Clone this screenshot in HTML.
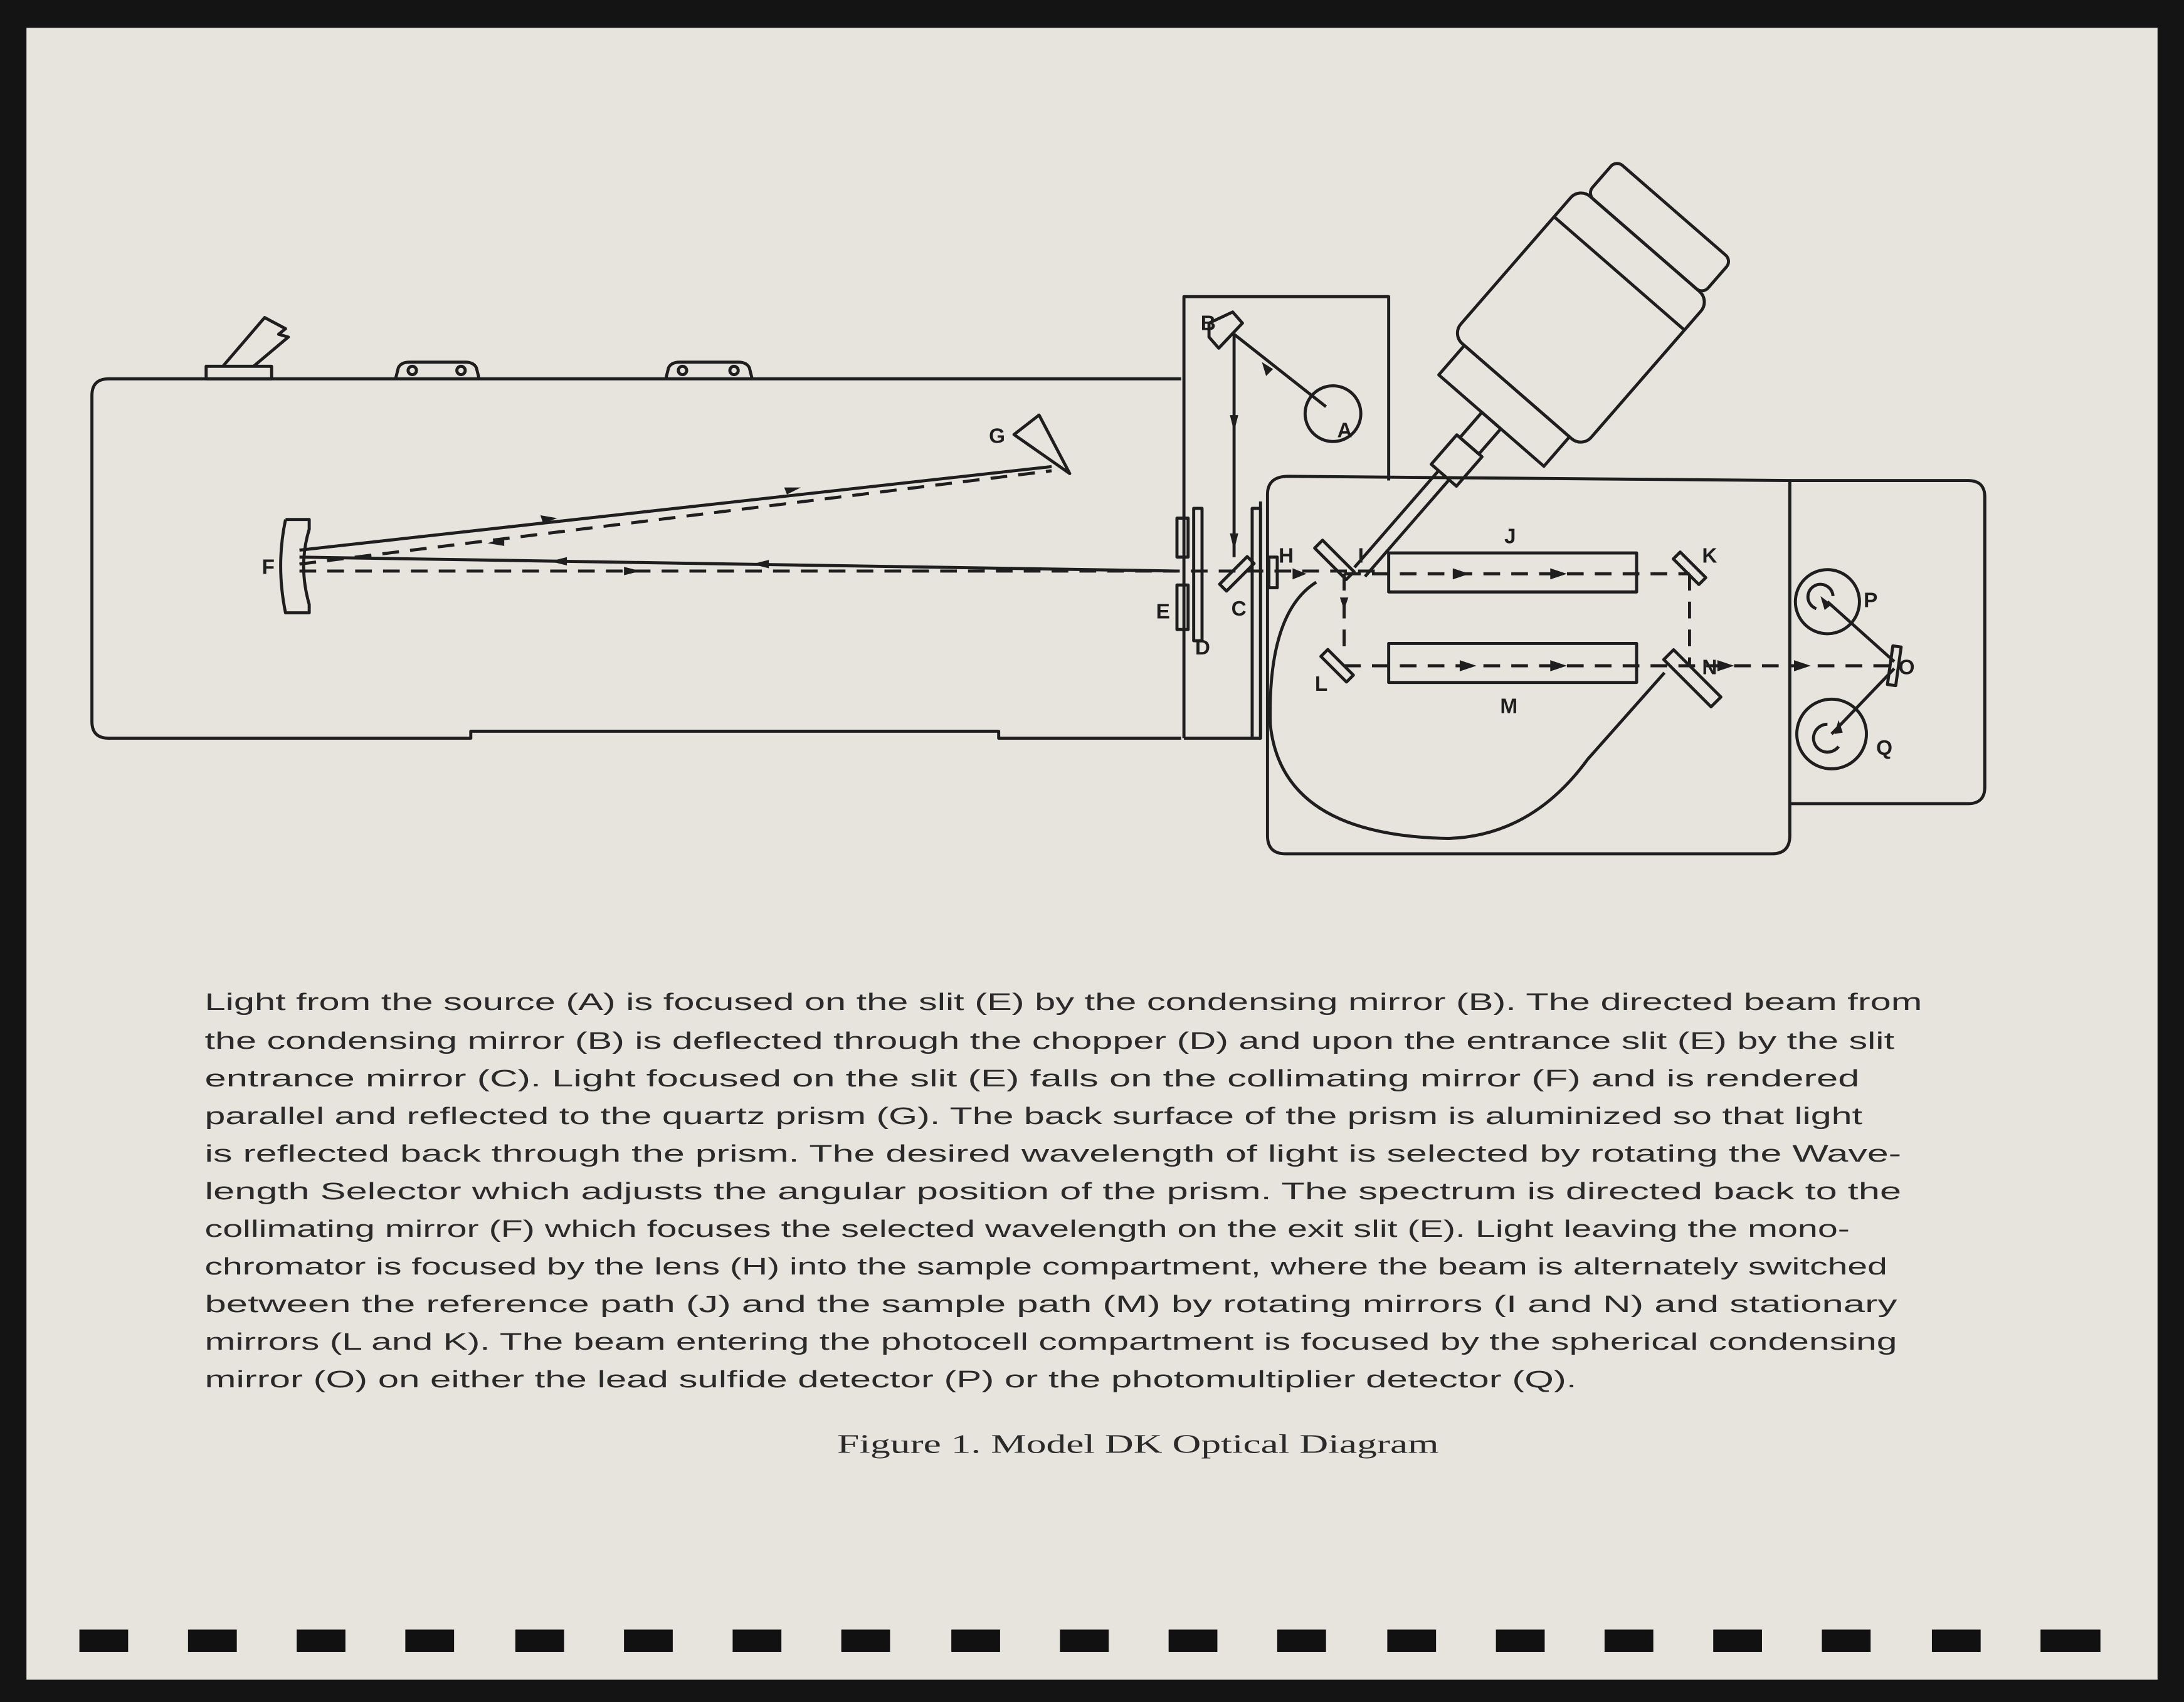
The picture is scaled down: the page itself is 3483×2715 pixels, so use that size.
<!DOCTYPE html>
<html><head><meta charset="utf-8"><style>
html,body{margin:0;padding:0;background:#111;}
svg{display:block;}
</style></head><body>
<svg width="3483" height="2715" viewBox="0 0 1568 1222" preserveAspectRatio="none" xmlns="http://www.w3.org/2000/svg">
<rect x="0" y="0" width="1568" height="1222" fill="#151414"/>
<rect x="19" y="20" width="1530" height="1186" fill="#e7e4de"/>
<g fill="#111">
<rect x="57" y="1170" width="35" height="16"/><rect x="135" y="1170" width="35" height="16"/><rect x="213" y="1170" width="35" height="16"/><rect x="291" y="1170" width="35" height="16"/><rect x="370" y="1170" width="35" height="16"/><rect x="448" y="1170" width="35" height="16"/><rect x="526" y="1170" width="35" height="16"/><rect x="604" y="1170" width="35" height="16"/><rect x="683" y="1170" width="35" height="16"/><rect x="761" y="1170" width="35" height="16"/><rect x="839" y="1170" width="35" height="16"/><rect x="917" y="1170" width="35" height="16"/><rect x="996" y="1170" width="35" height="16"/><rect x="1074" y="1170" width="35" height="16"/><rect x="1152" y="1170" width="35" height="16"/><rect x="1230" y="1170" width="35" height="16"/><rect x="1308" y="1170" width="35" height="16"/><rect x="1387" y="1170" width="35" height="16"/><rect x="1465" y="1170" width="43" height="16"/>
</g>
<g fill="none" stroke="#1e1e1e" stroke-width="2.2" stroke-linejoin="round">
<path d="M848 272 L78 272 Q66 272 66 284 L66 518 Q66 530 78 530 L338 530 L338 525 L717 525 L717 530 L848 530"/>
<rect x="148" y="263" width="47" height="9"/>
<path d="M160 263 L190 228 L205 236 L200 240 L207 242 L182 263"/>
<path d="M284 272 L286 264 Q288 260 294 260 L334 260 Q340 260 342 264 L344 272"/>
<circle cx="296" cy="266" r="3"/><circle cx="331" cy="266" r="3"/>
<path d="M478 272 L480 264 Q482 260 488 260 L530 260 Q536 260 538 264 L540 272"/>
<circle cx="490" cy="266" r="3"/><circle cx="527" cy="266" r="3"/>
<path d="M850 530 L850 213 L997 213 L997 345"/>
<path d="M850 530 L905 530 L905 360"/>
<path d="M925 342 L1285 345 L1285 600 Q1285 613 1272 613 L923 613 Q910 613 910 600 L910 355 Q910 342 925 342"/>
<path d="M1285 345 L1413 345 Q1425 345 1425 357 L1425 565 Q1425 577 1413 577 L1285 577"/>
<rect x="845" y="372" width="8" height="28"/><rect x="845" y="420" width="8" height="32"/>
<rect x="857" y="365" width="6" height="95"/>
<rect x="899" y="365" width="6" height="165"/>
<rect x="911" y="400" width="6" height="22"/>
<rect x="997" y="397" width="178" height="28"/>
<rect x="997" y="462" width="178" height="28"/>
<circle cx="957" cy="297" r="20"/>
<circle cx="1312" cy="432" r="23"/>
<circle cx="1315" cy="527" r="25"/>
<path d="M1304 437 A9 9 0 1 1 1316 428"/>
<path d="M1312 520 A10 10 0 1 0 1320 536"/>
<g transform="translate(1135 228) rotate(-49)">
<rect x="-70" y="-62" width="140" height="124" rx="10"/>
<rect x="70" y="-55" width="32" height="110" rx="6"/>
<line x1="42" y1="-62" x2="42" y2="62"/>
<rect x="-98" y="-50" width="28" height="100"/>
<rect x="-122" y="-9" width="24" height="18"/>
<rect x="-150" y="-12" width="28" height="24"/>
<line x1="-242" y1="-5" x2="-150" y2="-5"/><line x1="-242" y1="5" x2="-150" y2="5"/>
</g>
<path d="M945 418 Q910 440 912 520 Q920 600 1040 602 Q1100 600 1140 545 L1195 483"/>
<path d="M205 373 L222 373 L222 380 Q214 406 222 434 L222 440 L205 440 Q198 406 205 373"/>
<path d="M728 312 L746 298 L768 340 Z"/>
<path d="M868 232 L885 224 L892 232 L875 250 L868 242 Z"/>
<g transform="translate(888 412) rotate(-45)"><rect x="-14" y="-3.5" width="28" height="7"/></g>
<g transform="translate(958 402) rotate(45)"><rect x="-16" y="-4" width="32" height="8"/></g>
<g transform="translate(1213 408) rotate(45)"><rect x="-13" y="-3.5" width="26" height="7"/></g>
<g transform="translate(960 478) rotate(45)"><rect x="-13" y="-3.5" width="26" height="7"/></g>
<g transform="translate(1215 487) rotate(45)"><rect x="-24" y="-5" width="48" height="10"/></g>
<g transform="translate(1360 478) rotate(8)"><rect x="-3" y="-14" width="6" height="28"/></g>
<line x1="215" y1="395" x2="755" y2="335"/>
<line x1="215" y1="400" x2="845" y2="410"/>
<line x1="886" y1="240" x2="886" y2="400"/>
<line x1="886" y1="240" x2="952" y2="292"/>
<line x1="1312" y1="432" x2="1360" y2="475"/>
<line x1="1315" y1="527" x2="1360" y2="480"/>
</g>
<g fill="none" stroke="#1e1e1e" stroke-width="2.2" stroke-dasharray="12 8">
<line x1="215" y1="405" x2="755" y2="338"/>
<line x1="215" y1="410" x2="990" y2="410"/>
<line x1="965" y1="412" x2="1213" y2="412"/>
<line x1="1213" y1="412" x2="1213" y2="478"/>
<line x1="965" y1="412" x2="965" y2="470"/>
<line x1="965" y1="478" x2="1360" y2="478"/>
</g>
<g fill="#1e1e1e">
<path d="M400 372 l-12 -2 l2 6z"/><path d="M350 390 l12 -4 l0 6z"/><path d="M575 350 l-12 0 l2 5z"/>
<path d="M460 410 l-12 -3 l0 6z"/><path d="M395 403 l12 -3 l0 6z"/><path d="M540 405 l12 -3 l0 6z"/>
<path d="M886 310 l-3 -12 l6 0z"/><path d="M886 395 l-3 -12 l6 0z"/><path d="M906 260 l3 10 l5 -5z"/>
<path d="M1055 412 l-12 -4 l0 8z"/><path d="M1125 412 l-12 -4 l0 8z"/>
<path d="M1060 478 l-12 -4 l0 8z"/><path d="M1125 478 l-12 -4 l0 8z"/><path d="M1245 478 l-12 -4 l0 8z"/><path d="M1300 478 l-12 -4 l0 8z"/>
<path d="M965 438 l-3 -9 l6 0z"/><path d="M938 412 l-10 -4 l0 8z"/>
<path d="M1307 428 l3 10 l5 -4z"/><path d="M1320 517 l-3 10 l6 -1z"/>
</g>
<g font-family="Liberation Sans, sans-serif" font-weight="bold" font-size="15" fill="#1e1e1e">
<text x="862" y="237">B</text><text x="960" y="314">A</text><text x="710" y="318">G</text><text x="188" y="412">F</text>
<text x="830" y="444">E</text><text x="858" y="470">D</text><text x="884" y="442">C</text><text x="918" y="404">H</text><text x="975" y="404">I</text>
<text x="1080" y="390">J</text><text x="1222" y="404">K</text><text x="944" y="496">L</text><text x="1077" y="512">M</text><text x="1222" y="484">N</text>
<text x="1338" y="436">P</text><text x="1363" y="484">O</text><text x="1347" y="542">Q</text>
</g>
<g font-family="Liberation Sans, sans-serif" font-size="17" fill="#2a2a2a">
<text x="147" y="725" textLength="1233" lengthAdjust="spacingAndGlyphs">Light from the source (A) is focused on the slit (E) by the condensing mirror (B).  The directed beam from</text>
<text x="147" y="753" textLength="1213" lengthAdjust="spacingAndGlyphs">the condensing mirror (B) is deflected through the chopper (D) and upon the entrance slit (E) by the slit</text>
<text x="147" y="780" textLength="1188" lengthAdjust="spacingAndGlyphs">entrance mirror (C).  Light focused on the slit (E) falls on the collimating mirror (F) and is rendered</text>
<text x="147" y="807" textLength="1190" lengthAdjust="spacingAndGlyphs">parallel and reflected to the quartz prism (G).  The back surface of the prism is aluminized so that light</text>
<text x="147" y="834" textLength="1218" lengthAdjust="spacingAndGlyphs">is reflected back through the prism.  The desired wavelength of light is selected by rotating the Wave-</text>
<text x="147" y="861" textLength="1218" lengthAdjust="spacingAndGlyphs">length Selector which adjusts the angular position of the prism.  The spectrum is directed back to the</text>
<text x="147" y="888" textLength="1181" lengthAdjust="spacingAndGlyphs">collimating mirror (F) which focuses the selected wavelength on the exit slit (E).  Light leaving the mono-</text>
<text x="147" y="915" textLength="1208" lengthAdjust="spacingAndGlyphs">chromator is focused by the lens (H) into the sample compartment, where the beam is alternately switched</text>
<text x="147" y="942" textLength="1215" lengthAdjust="spacingAndGlyphs">between the reference path (J) and the sample path (M) by rotating mirrors (I and N) and stationary</text>
<text x="147" y="969" textLength="1215" lengthAdjust="spacingAndGlyphs">mirrors (L and K).  The beam entering the photocell compartment is focused by the spherical condensing</text>
<text x="147" y="996" textLength="985" lengthAdjust="spacingAndGlyphs">mirror (O) on either the lead sulfide detector (P) or the photomultiplier detector (Q).</text>
</g>
<text x="601" y="1043" font-family="Liberation Serif, serif" font-size="19" fill="#2a2a2a" textLength="432" lengthAdjust="spacingAndGlyphs">Figure 1.   Model DK Optical Diagram</text>
</svg>
</body></html>
